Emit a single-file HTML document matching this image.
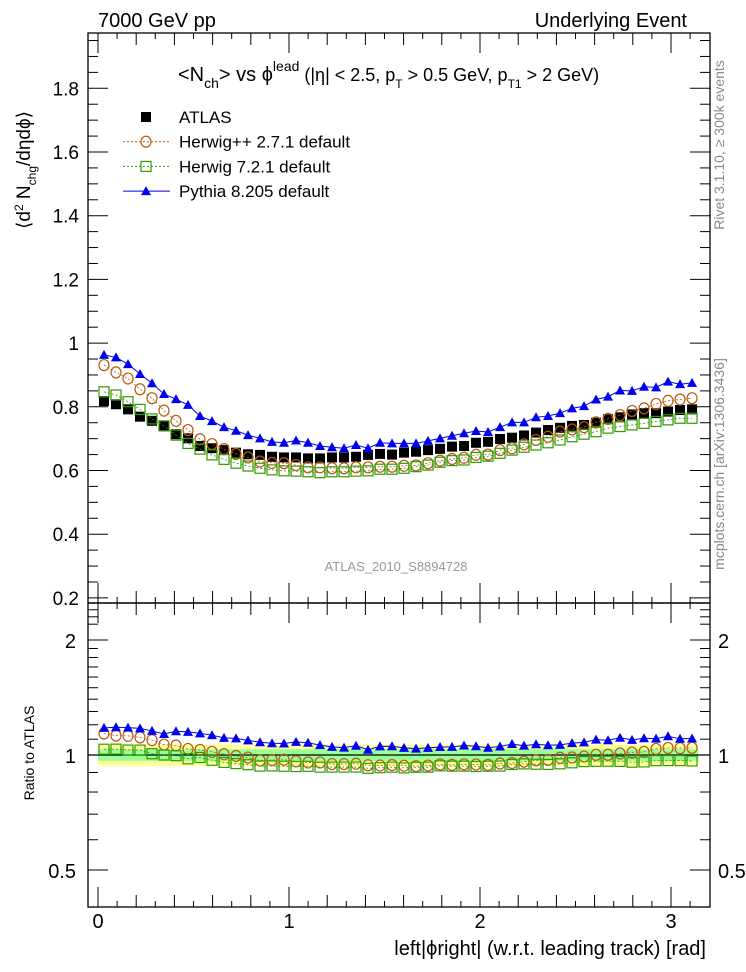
<!DOCTYPE html>
<html><head><meta charset="utf-8"><style>
body{margin:0;background:#fff;}
svg{display:block;font-family:"Liberation Sans",sans-serif;}
</style></head><body>
<svg id="chart" width="746" height="972" viewBox="0 0 746 972" xmlns="http://www.w3.org/2000/svg">
<g id="bands"></g>
<g id="axes"></g>
<g id="series"></g>
<text x="98" y="27" font-size="20">7000 GeV pp</text>
<text x="687" y="27" font-size="20" text-anchor="end">Underlying Event</text>
<text x="178" y="81" font-size="20">&lt;N<tspan font-size="14" dy="7">ch</tspan><tspan dy="-7">&gt; vs ϕ</tspan><tspan font-size="14" dy="-10">lead</tspan><tspan font-size="18" dy="10"> (|η| &lt; 2.5, p</tspan><tspan font-size="12" dy="7">T</tspan><tspan font-size="18" dy="-7"> &gt; 0.5 GeV, p</tspan><tspan font-size="12" dy="7">T1</tspan><tspan font-size="18" dy="-7"> &gt; 2 GeV)</tspan></text>
<text transform="translate(30,170) rotate(-90)" font-size="19" text-anchor="middle">⟨d<tspan font-size="12" dy="-7">2</tspan><tspan dy="7"> N</tspan><tspan font-size="12" dy="6">chg</tspan><tspan dy="-6">/dηdϕ⟩</tspan></text>
<text transform="translate(34,753) rotate(-90)" font-size="14" text-anchor="middle">Ratio to ATLAS</text>
<text x="706" y="955" font-size="20" text-anchor="end">left|ϕright| (w.r.t. leading track) [rad]</text>
<text x="396" y="571" font-size="13" fill="#999" text-anchor="middle">ATLAS_2010_S8894728</text>
<text transform="translate(724,145) rotate(-90)" font-size="14" fill="#888" text-anchor="middle">Rivet 3.1.10, ≥ 300k events</text>
<text transform="translate(724,464) rotate(-90)" font-size="14" fill="#888" text-anchor="middle">mcplots.cern.ch [arXiv:1306.3436]</text>
<g id="legend"></g>
</svg>
<script>
const NS="http://www.w3.org/2000/svg";
const atlas=[0.818,0.808,0.792,0.769,0.756,0.740,0.714,0.701,0.677,0.670,0.664,0.656,0.651,0.649,0.643,0.641,0.641,0.638,0.638,0.641,0.641,0.643,0.649,0.652,0.650,0.656,0.659,0.664,0.668,0.675,0.677,0.687,0.690,0.699,0.703,0.710,0.719,0.727,0.734,0.740,0.743,0.750,0.761,0.767,0.776,0.780,0.780,0.785,0.790,0.792];
const herwigpp=[0.931,0.908,0.889,0.855,0.827,0.788,0.756,0.727,0.698,0.683,0.667,0.652,0.641,0.628,0.624,0.623,0.617,0.610,0.610,0.607,0.607,0.610,0.610,0.612,0.612,0.615,0.616,0.623,0.631,0.636,0.640,0.649,0.650,0.664,0.670,0.682,0.696,0.706,0.722,0.729,0.736,0.751,0.762,0.774,0.787,0.795,0.809,0.819,0.823,0.827];
const herwig7=[0.847,0.837,0.816,0.792,0.762,0.740,0.711,0.685,0.667,0.649,0.635,0.623,0.614,0.607,0.602,0.599,0.598,0.596,0.593,0.596,0.596,0.598,0.599,0.604,0.604,0.607,0.612,0.617,0.626,0.631,0.633,0.641,0.645,0.654,0.664,0.673,0.680,0.687,0.696,0.706,0.714,0.722,0.733,0.738,0.743,0.748,0.754,0.759,0.764,0.764];
const pythia=[0.963,0.955,0.934,0.903,0.874,0.840,0.824,0.806,0.771,0.755,0.736,0.725,0.711,0.701,0.690,0.687,0.694,0.687,0.677,0.673,0.670,0.680,0.670,0.687,0.685,0.685,0.685,0.693,0.701,0.709,0.717,0.724,0.721,0.736,0.751,0.751,0.767,0.771,0.780,0.795,0.802,0.823,0.832,0.851,0.850,0.863,0.861,0.879,0.871,0.875];
const bandOuter=[0.065,0.065,0.065,0.065,0.065,0.065,0.065,0.065,0.065,0.065,0.065,0.065,0.065,0.065,0.065,0.065,0.065,0.065,0.065,0.065,0.065,0.065,0.065,0.065,0.065,0.065,0.065,0.065,0.065,0.065,0.065,0.065,0.065,0.065,0.065,0.065,0.065,0.065,0.065,0.065,0.065,0.065,0.065,0.065,0.065,0.065,0.065,0.065,0.065,0.065];
const bandInner=[0.035,0.035,0.035,0.035,0.035,0.035,0.035,0.035,0.035,0.035,0.035,0.035,0.035,0.035,0.035,0.035,0.035,0.035,0.035,0.035,0.035,0.035,0.035,0.035,0.035,0.035,0.035,0.035,0.035,0.035,0.035,0.035,0.035,0.035,0.035,0.035,0.035,0.035,0.035,0.035,0.035,0.035,0.035,0.035,0.035,0.035,0.035,0.035,0.035,0.035];
const mainTicks=[0.2,0.4,0.6,0.8,1,1.2,1.4,1.6,1.8];
const mainTickLabels=["0.2","0.4","0.6","0.8","1","1.2","1.4","1.6","1.8"];
const ratioTicks=[0.5,1,2];
const ratioTickLabels=["0.5","1","2"];
const xTicks=[0,1,2,3];
const xTickLabels=["0","1","2","3"];

const L=88,R=710,T=33,MB=603,RB=907;
const NB=atlas.length, BW=Math.PI/NB;
const X=v=>98+v*191;
const Y=v=>88.3+(1.8-v)*318.5;
const YR=r=>755-115*Math.log2(r);
function mk(tag,attrs,parent){const e=document.createElementNS(NS,tag);for(const k in attrs)e.setAttribute(k,attrs[k]);parent.appendChild(e);return e;}
const axes=document.getElementById('axes'),series=document.getElementById('series'),bands=document.getElementById('bands');
for(let i=0;i<NB;i++){
 const x0=X(i*BW),x1=X((i+1)*BW);
 const o=mk('rect',{x:x0,y:YR(1+bandOuter[i]),width:x1-x0+0.3,height:YR(1-bandOuter[i])-YR(1+bandOuter[i]),fill:'#ffff99'},bands);
 
 
 const g=mk('rect',{x:x0,y:YR(1+bandInner[i]),width:x1-x0+0.3,height:YR(1-bandInner[i])-YR(1+bandInner[i]),fill:'#99ff99'},bands);
 
 
}
mk('rect',{x:L,y:T,width:R-L,height:MB-T,fill:'none',stroke:'#000','stroke-width':1.3},axes);
mk('rect',{x:L,y:MB,width:R-L,height:RB-MB,fill:'none',stroke:'#000','stroke-width':1.3},axes);
mk('line',{x1:L,x2:R,y1:YR(1),y2:YR(1),stroke:'#000','stroke-width':1.3},axes);
for(let k=4;k<=39;k++){const vv=k*0.05;const maj=k%4===0;const len=maj?20:10;
 mk('line',{x1:L,x2:L+len,y1:Y(vv),y2:Y(vv),stroke:'#000'},axes);mk('line',{x1:R-len,x2:R,y1:Y(vv),y2:Y(vv),stroke:'#000'},axes);}
mainTicks.forEach((v,i)=>{const t=mk('text',{x:79,y:Y(v)+7,'font-size':19,'text-anchor':'end'},axes);t.textContent=mainTickLabels[i];
 
 });
[0.4,0.6,0.7,0.8,0.9,1.1,1.2,1.3,1.4,1.5,1.6,1.7,1.8,1.9,2.2,2.3,2.4].forEach(r=>{mk('line',{x1:L,x2:L+10,y1:YR(r),y2:YR(r),stroke:'#000'},axes);mk('line',{x1:R-10,x2:R,y1:YR(r),y2:YR(r),stroke:'#000'},axes);});
ratioTicks.forEach((r,i)=>{mk('line',{x1:L,x2:L+20,y1:YR(r),y2:YR(r),stroke:'#000'},axes);mk('line',{x1:R-20,x2:R,y1:YR(r),y2:YR(r),stroke:'#000'},axes);
 const t=mk('text',{x:76,y:YR(r)+8,'font-size':20,'text-anchor':'end'},axes);t.textContent=ratioTickLabels[i];
 
 
 const t2=mk('text',{x:718,y:YR(r)+8,'font-size':20},axes);t2.textContent=ratioTickLabels[i];
 
 });
for(let k=0;k<=31;k++){const v=k/10;const maj=k%10===0;const len=maj?20:(k%2===0?12:6);
 [[T,1],[MB,-1],[MB,1],[RB,-1]].forEach(([y0,d])=>mk('line',{x1:X(v),x2:X(v),y1:y0,y2:y0+d*len,stroke:'#000'},axes));}
xTicks.forEach((v,i)=>{const t=mk('text',{x:X(v),y:928,'font-size':20,'text-anchor':'middle'},axes);t.textContent=xTickLabels[i];
 
 });
function drawLine(vals,yf,color,dash,name){
 const pts=vals.map((v,i)=>X((i+0.5)*BW)+','+yf(v,i)).join(' ');
 const p=mk('polyline',{points:pts,fill:'none',stroke:color,'stroke-width':dash?0.8:1,'stroke-dasharray':dash?'2,2':'none'},series);
 
 
}
function marker(type,cx,cy,g){
 if(type==='sq')return mk('rect',{x:cx-5,y:cy-5,width:10,height:10,fill:'#000'},g);
 if(type==='circ')return mk('ellipse',{cx:cx,cy:cy,rx:5,ry:5.5,fill:'none',stroke:'#b85a10','stroke-width':1.2},g);
 if(type==='osq')return mk('rect',{x:cx-5,y:cy-5,width:10,height:10,fill:'none',stroke:'#339900','stroke-width':1.2},g);
 if(type==='tri')return mk('polygon',{points:`${cx-5},${cy+4} ${cx+5},${cy+4} ${cx},${cy-5}`,fill:'#0000ee'},g);
}
function drawSeries(vals,type,yf,name){
 vals.forEach((v,i)=>{const m=marker(type,X((i+0.5)*BW),yf(v,i),series);
  
  });
}
const ratioOf=arr=>(v,i)=>YR(v/atlas[i]);
drawSeries(atlas,'sq',v=>Y(v),'atlas-point');
drawLine(herwigpp,v=>Y(v),'#b85a10',true,'herwigpp-line');
drawSeries(herwigpp,'circ',v=>Y(v),'herwigpp-point');
drawLine(herwig7,v=>Y(v),'#339900',true,'herwig7-line');
drawSeries(herwig7,'osq',v=>Y(v),'herwig7-point');
drawLine(pythia,v=>Y(v),'#0000ee',false,'pythia-line');
drawSeries(pythia,'tri',v=>Y(v),'pythia-point');
drawLine(herwigpp,ratioOf(herwigpp),'#b85a10',true,'herwigpp-ratio-line');
drawSeries(herwigpp,'circ',ratioOf(herwigpp),'herwigpp-ratio-point');
drawLine(herwig7,ratioOf(herwig7),'#339900',true,'herwig7-ratio-line');
drawSeries(herwig7,'osq',ratioOf(herwig7),'herwig7-ratio-point');
drawLine(pythia,ratioOf(pythia),'#0000ee',false,'pythia-ratio-line');
drawSeries(pythia,'tri',ratioOf(pythia),'pythia-ratio-point');
const lg=document.getElementById('legend');
const leg=[['sq','ATLAS',null,false],['circ','Herwig++ 2.7.1 default','#b85a10',true],['osq','Herwig 7.2.1 default','#339900',true],['tri','Pythia 8.205 default','#0000ee',false]];
leg.forEach((e,i)=>{const y=117+i*24.7;
 if(e[2])mk('line',{x1:123,x2:170,y1:y,y2:y,stroke:e[2],'stroke-width':1,'stroke-dasharray':e[3]?'2,2':'none'},lg);
 const m=marker(e[0],146,y,lg);
 
 
 const t=mk('text',{x:179,y:y+6,'font-size':17},lg);t.textContent=e[1];
 
 });
</script>
</body></html>
